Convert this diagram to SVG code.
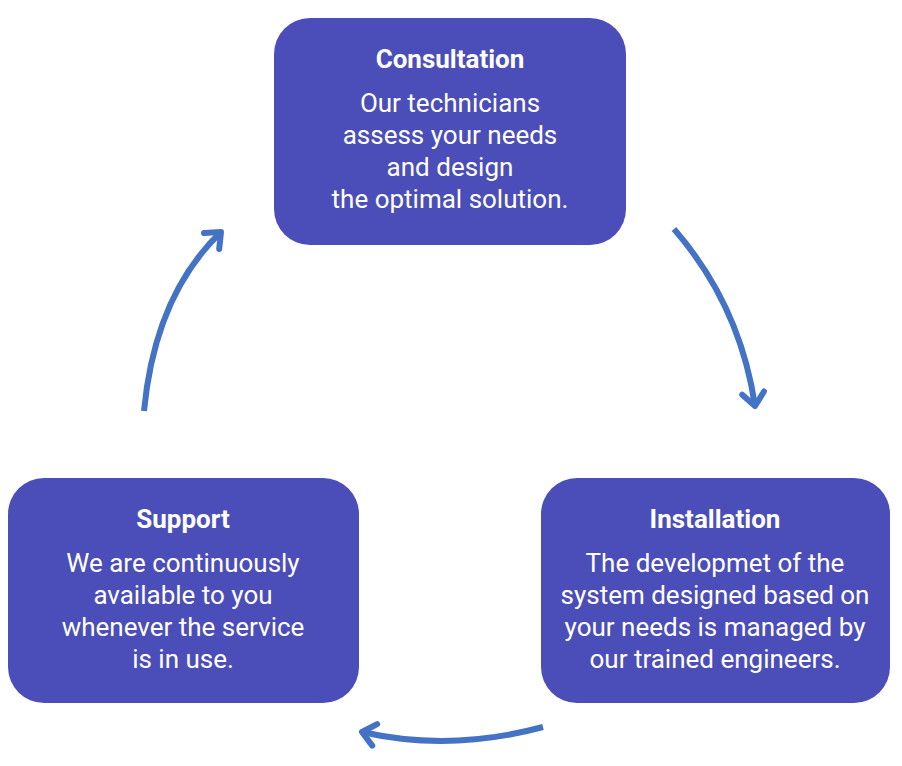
<svg xmlns="http://www.w3.org/2000/svg" width="902" height="766" viewBox="0 0 902 766">
<defs>
<marker id="ah" viewBox="0 0 24 28" refX="18" refY="14" markerWidth="24" markerHeight="28" markerUnits="userSpaceOnUse" orient="auto">
<path d="M5,3 L18,14 L5,25" fill="none" stroke="#4472C4" stroke-width="6" stroke-linecap="round" stroke-linejoin="round"/>
</marker>
</defs>
<style>
.box{fill:#4B4EB8}
.t{font-family:Roboto,"Liberation Sans",sans-serif;font-weight:bold;font-size:26px;fill:#fff;text-anchor:middle}
.b{font-family:Roboto,"Liberation Sans",sans-serif;font-size:26px;fill:#fff;text-anchor:middle}
.c{fill:none;stroke:#4472C4;stroke-width:6;stroke-linecap:butt}
</style>
<rect width="902" height="766" fill="#fff"/>
<g id="consultation">
<rect class="box" x="274" y="18" width="352" height="227" rx="36"/>
<text class="t" x="450" y="68">Consultation</text>
<text class="b" x="450" y="112">Our technicians</text>
<text class="b" x="450" y="144">assess your needs</text>
<text class="b" x="450" y="176">and design</text>
<text class="b" x="450" y="208">the optimal solution.</text>
</g>
<g id="installation">
<rect class="box" x="541" y="478" width="349" height="225" rx="36"/>
<text class="t" x="715" y="528">Installation</text>
<text class="b" x="715" y="572">The developmet of the</text>
<text class="b" x="715" y="604">system designed based on</text>
<text class="b" x="715" y="636">your needs is managed by</text>
<text class="b" x="715" y="668">our trained engineers.</text>
</g>
<g id="support">
<rect class="box" x="8" y="478" width="351" height="225" rx="36"/>
<text class="t" x="183" y="528">Support</text>
<text class="b" x="183" y="572">We are continuously</text>
<text class="b" x="183" y="604">available to you</text>
<text class="b" x="183" y="636">whenever the service</text>
<text class="b" x="183" y="668">is in use.</text>
</g>
<g id="connectors">
<path class="c" d="M674,229 Q740,305 755,406" marker-end="url(#ah)"/>
<path class="c" d="M543,727 Q450,752 362,732" marker-end="url(#ah)"/>
<path class="c" d="M144,411 Q155,295 221,232" marker-end="url(#ah)"/>
</g>
</svg>
